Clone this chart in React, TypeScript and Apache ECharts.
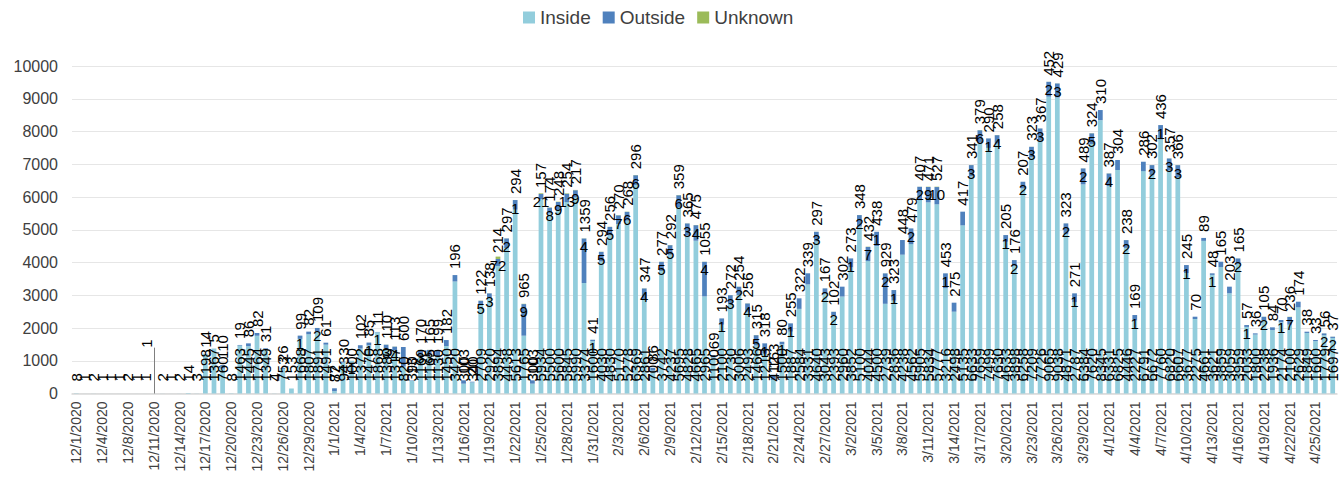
import React, { useEffect, useRef } from "react";
import * as echarts from "echarts";

// Category days (12/7/2020 is absent from the source table)
const decDays = [1, 2, 3, 4, 5, 6, 8, 9, 10, 11, 12, 13, 14, 15, 16, 17, 18, 19, 20, 21, 22, 23, 24, 25, 26, 27, 28, 29, 30, 31];
const janDays = [1, 2, 3, 4, 5, 6, 7, 8, 9, 10, 11, 12, 13, 14, 15, 16, 17, 18, 19, 20, 21, 22, 23, 24, 25, 26, 27, 28, 29, 30, 31];
const febDays = [1, 2, 3, 4, 5, 6, 7, 8, 9, 10, 11, 12, 13, 14, 15, 16, 17, 18, 19, 20, 21, 22, 23, 24, 25, 26, 27, 28];
const marDays = [1, 2, 3, 4, 5, 6, 7, 8, 9, 10, 11, 12, 13, 14, 15, 16, 17, 18, 19, 20, 21, 22, 23, 24, 25, 26, 27, 28, 29, 30, 31];
const aprDays = [1, 2, 3, 4, 5, 6, 7, 8, 9, 10, 11, 12, 13, 14, 15, 16, 17, 18, 19, 20, 21, 22, 23, 24, 25, 26, 27];

const categories: string[] = [
  ...decDays.map((d) => `12/${d}/2020`),
  ...janDays.map((d) => `1/${d}/2021`),
  ...febDays.map((d) => `2/${d}/2021`),
  ...marDays.map((d) => `3/${d}/2021`),
  ...aprDays.map((d) => `4/${d}/2021`),
];

const insideDec = [8, 1, 2, 1, 1, 1, 2, 1, 1, 1, 2, 1, 2, 14, 3, 1198, 1367, 760, 8, 1463, 1445, 1764, 1349, 4, 753, 153, 1668, 1807, 1891, 1491];
const insideJan = [72, 943, 1000, 1372, 1470, 1868, 1380, 1317, 820, 390, 1160, 1165, 1130, 1450, 3420, 300, 340, 2709, 2920, 3894, 4438, 5613, 1765, 300, 5934, 5500, 5600, 5845, 5990, 3374, 1600];
const insideFeb = [4030, 4830, 5170, 5278, 6369, 2861, 700, 3742, 4237, 5695, 4828, 4665, 2965, 1100, 2100, 2730, 3006, 2493, 1466, 1213, 412, 1500, 1887, 2584, 3331, 4640, 3043, 2393];
const insideMar = [2960, 3852, 5100, 4044, 4500, 2739, 2836, 4238, 4562, 5905, 5834, 5777, 3216, 2498, 5135, 6633, 7659, 7499, 7630, 4633, 3898, 6258, 7209, 7726, 9065, 9038, 4871, 2787, 6384, 7620, 8345];
const insideApr = [6331, 6825, 4446, 2227, 6791, 6672, 7760, 6820, 6607, 3677, 2275, 4661, 3621, 3859, 3059, 3959, 2033, 1800, 2238, 1936, 2174, 2100, 2629, 1849, 1600, 1779, 1697];

const outsideDec = [0, 0, 0, 0, 0, 0, 0, 0, 0, 0, 0, 0, 0, 0, 0, 14, 5, 110, 0, 19, 86, 82, 31, 0, 26, 0, 99, 82, 109, 61];
const outsideJan = [87, 30, 0, 102, 85, 11, 110, 113, 600, 13, 170, 165, 199, 182, 196, 103, 20, 122, 138, 214, 297, 294, 965, 103, 157, 174, 248, 254, 217, 1359, 41];
const outsideFeb = [294, 256, 270, 268, 296, 347, 86, 277, 292, 359, 365, 475, 1055, 69, 193, 272, 254, 256, 315, 318, 163, 80, 255, 322, 339, 297, 167, 102];
const outsideMar = [302, 273, 348, 432, 438, 929, 323, 448, 479, 407, 471, 527, 453, 275, 417, 341, 379, 290, 258, 205, 176, 207, 323, 367, 452, 429, 323, 271, 489, 324, 310];
const outsideApr = [387, 304, 238, 169, 286, 302, 436, 357, 366, 245, 70, 89, 48, 165, 203, 165, 57, 36, 105, 84, 70, 236, 174, 38, 33, 56, 37];

const unknownDec = [0, 0, 0, 0, 0, 0, 0, 0, 0, 0, 0, 0, 0, 0, 0, 0, 0, 0, 0, 0, 0, 0, 0, 0, 0, 0, 1, 0, 2, 0];
const unknownJan = [0, 1, 1, 0, 1, 1, 3, 4, 0, 0, 3, 3, 0, 0, 0, 0, 0, 5, 3, 72, 2, 1, 9, 0, 21, 8, 9, 13, 9, 4, 1];
const unknownFeb = [5, 5, 7, 6, 6, 4, 0, 5, 5, 6, 3, 4, 4, 0, 1, 3, 2, 4, 5, 1, 0, 1, 1, 0, 0, 3, 2, 2];
const unknownMar = [0, 1, 2, 7, 1, 2, 1, 0, 2, 2, 9, 10, 1, 0, 0, 3, 6, 1, 4, 1, 2, 2, 3, 3, 2, 3, 2, 1, 2, 5, 0];
const unknownApr = [4, 0, 2, 1, 0, 2, 1, 3, 3, 1, 0, 0, 1, 0, 0, 2, 1, 0, 2, 0, 1, 7, 0, 0, 0, 2, 2];

const inside = [...insideDec, ...insideJan, ...insideFeb, ...insideMar, ...insideApr];
const outside = [...outsideDec, ...outsideJan, ...outsideFeb, ...outsideMar, ...outsideApr];
const unknown = [...unknownDec, ...unknownJan, ...unknownFeb, ...unknownMar, ...unknownApr];

const yTicks = { min: 0, max: 10000, interval: 1000 };
const movedLabelDate = "12/11/2020";
const movedLabelTop = 1400;

const FONT = "Liberation Sans";

const hideZero = (p: any) => (p.value > 0 ? String(p.value) : "");

export default function App() {
  const ref = useRef<HTMLDivElement>(null);
  useEffect(() => {
    if (!ref.current) return;
    const chart = echarts.init(ref.current, undefined, { renderer: "svg" });
    const movedIdx = categories.indexOf(movedLabelDate);
    const insideData = inside.map((v, i) =>
      i === movedIdx ? { value: v, label: { show: false } } : v
    );
    chart.setOption({
      animation: false,
      textStyle: { fontFamily: FONT },
      legend: {
        top: 3,
        left: 518,
        icon: "rect",
        itemWidth: 12,
        itemHeight: 12,
        itemGap: 12,
        textStyle: { fontSize: 19, color: "#404040", fontFamily: FONT },
        data: ["Inside", "Outside", "Unknown"],
      },
      grid: { left: 72, right: 7, top: 66, bottom: 83.5, containLabel: false },
      xAxis: {
        type: "category",
        data: categories,
        axisTick: { show: false },
        axisLine: { lineStyle: { color: "#d9d9d9", width: 1.5 } },
        axisLabel: {
          interval: 2,
          rotate: 90,
          fontSize: 14,
          color: "#404040",
          fontFamily: FONT,
          margin: 8,
        },
      },
      yAxis: {
        type: "value",
        min: yTicks.min,
        max: yTicks.max,
        interval: yTicks.interval,
        axisLine: { show: false },
        axisTick: { show: false },
        splitLine: { lineStyle: { color: "#e6e6e6", width: 1 } },
        axisLabel: {
          fontSize: 16,
          color: "#404040",
          fontFamily: FONT,
          margin: 14,
          formatter: (v: number) => String(v),
        },
      },
      series: [
        {
          name: "Inside",
          type: "bar",
          stack: "total",
          barCategoryGap: "45%",
          itemStyle: { color: "#92CDDC" },
          data: insideData,
          label: {
            show: true,
            position: "insideBottom",
            rotate: 90,
            align: "left",
            verticalAlign: "middle",
            distance: 12,
            fontSize: 15,
            color: "#000",
            formatter: hideZero,
          },
          markLine: {
            silent: true,
            symbol: ["none", "none"],
            lineStyle: { color: "#7f7f7f", type: "solid", width: 1 },
            label: {
              show: true,
              position: "end",
              formatter: String(inside[movedIdx]),
              rotate: 90,
              fontSize: 15,
              color: "#000",
              distance: 4,
            },
            data: [
              [
                { xAxis: movedLabelDate, yAxis: 0 },
                { xAxis: movedLabelDate, yAxis: movedLabelTop },
              ],
            ],
          },
        },
        {
          name: "Outside",
          type: "bar",
          stack: "total",
          itemStyle: { color: "#4F81BD" },
          data: outside,
          label: {
            show: true,
            position: "top",
            rotate: 90,
            align: "left",
            verticalAlign: "middle",
            distance: 6,
            fontSize: 15,
            color: "#000",
            formatter: hideZero,
          },
        },
        {
          name: "Unknown",
          type: "bar",
          stack: "total",
          itemStyle: { color: "#9BBB59" },
          data: unknown,
          label: {
            show: true,
            position: "inside",
            offset: [0, 8],
            fontSize: 15,
            color: "#000",
            formatter: hideZero,
          },
        },
      ],
    });
    return () => chart.dispose();
  }, []);
  return (
    <div
      ref={ref}
      style={{ position: "fixed", left: 0, top: 0, width: 1344, height: 477, background: "#fff" }}
    />
  );
}
